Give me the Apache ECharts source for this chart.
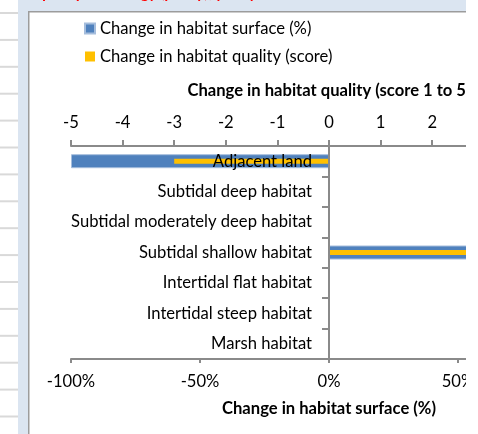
<!DOCTYPE html>
<html>
<head>
<meta charset="utf-8">
<script src="https://cdn.jsdelivr.net/npm/echarts@6/dist/echarts.min.js"></script>
<style>
  html, body { margin: 0; padding: 0; background: #fff; overflow: hidden; }
  #frame { width: 478px; height: 434px; overflow: hidden; position: relative; }
  #chart { width: 600px; height: 434px; position: absolute; left: 0; top: 0; }
</style>
</head>
<body>
<div id="frame"><div id="chart"></div></div>
<script>
// Habitat categories, top to bottom
const categories = [
  'Adjacent land',
  'Subtidal deep habitat',
  'Subtidal moderately deep habitat',
  'Subtidal shallow habitat',
  'Intertidal flat habitat',
  'Intertidal steep habitat',
  'Marsh habitat'
];
// Change in habitat surface (%)
const surfaceChange = [-100, 0, 0, 60, 0, 0, 0];
// Change in habitat quality (score 1 to 5)
const qualityChange = [-3, 0, 0, 3, 0, 0, 0];

const surfaceTicks = { min: -100, max: 100, interval: 50 };
const qualityTicks = { min: -5, max: 5, interval: 1 };

const FONT = 'Lato, "Open Sans", sans-serif';
const FS = 16.6;
const AXIS_GREY = '#8a8a8a';
const FRAME_BLUE = '#dbe5f1';

const GRID_LEFT = 71;
const GRID_RIGHT = 13;
const CHART_W = 600;
// horizontal distance from the grid's left edge to the zero line
const zeroOffset = (CHART_W - GRID_LEFT - GRID_RIGHT) *
  (0 - surfaceTicks.min) / (surfaceTicks.max - surfaceTicks.min);

// spreadsheet grid rows visible to the left of the chart frame
const sheetRows = [];
for (let i = 0; i < 16; i++) {
  sheetRows.push({
    type: 'rect',
    shape: { x: 0, y: 12 + i * 26.9, width: 18, height: 2 },
    style: { fill: '#d9d9d9' },
    silent: true
  });
}

const chart = echarts.init(document.getElementById('chart'), null, { renderer: 'canvas' });

chart.setOption({
  backgroundColor: '#ffffff',
  animation: false,
  textStyle: { fontFamily: FONT },
  legend: {
    orient: 'vertical',
    left: 84,
    top: 20,
    padding: 0,
    itemWidth: 10,
    itemHeight: 10,
    itemGap: 11,
    icon: 'rect',
    textStyle: { fontSize: FS, color: '#000', fontFamily: FONT },
    data: ['Change in habitat surface (%)', 'Change in habitat quality (score)']
  },
  grid: { left: GRID_LEFT, right: GRID_RIGHT, top: 146, bottom: 75, containLabel: false, outerBoundsMode: 'none' },
  xAxis: [
    {
      type: 'value',
      position: 'bottom',
      min: surfaceTicks.min, max: surfaceTicks.max, interval: surfaceTicks.interval,
      name: 'Change in habitat surface (%)',
      nameLocation: 'middle',
      nameGap: 41,
      nameTextStyle: { fontSize: FS, fontWeight: 'bold', color: '#000', fontFamily: FONT },
      axisLine: { show: true, onZero: false, lineStyle: { color: AXIS_GREY, width: 2 } },
      axisTick: { show: true, length: 4, lineStyle: { color: AXIS_GREY, width: 2 } },
      axisLabel: { formatter: '{value}%', fontSize: FS, color: '#000', margin: 14, fontFamily: FONT },
      splitLine: { show: false }
    },
    {
      type: 'value',
      position: 'top',
      min: qualityTicks.min, max: qualityTicks.max, interval: qualityTicks.interval,
      name: 'Change in habitat quality (score 1 to 5)',
      nameLocation: 'middle',
      nameGap: 47,
      nameTextStyle: { fontSize: FS, fontWeight: 'bold', color: '#000', fontFamily: FONT },
      axisLine: { show: true, onZero: false, lineStyle: { color: AXIS_GREY, width: 2 } },
      axisTick: { show: true, length: 6, lineStyle: { color: AXIS_GREY, width: 2 } },
      axisLabel: { fontSize: FS, color: '#000', margin: 15, fontFamily: FONT },
      splitLine: { show: false }
    }
  ],
  yAxis: [
    {
      type: 'category',
      inverse: true,
      data: categories,
      position: 'left',
      offset: -zeroOffset,
      z: 10,
      axisLine: { show: true, onZero: false, lineStyle: { color: AXIS_GREY, width: 2 } },
      axisTick: { show: true, length: 7, lineStyle: { color: AXIS_GREY, width: 2 } },
      axisLabel: { fontSize: FS, color: '#000', margin: 17, fontFamily: FONT },
      splitLine: { show: false }
    },
    {
      type: 'category',
      inverse: true,
      data: categories,
      show: false
    }
  ],
  series: [
    {
      name: 'Change in habitat surface (%)',
      type: 'bar',
      xAxisIndex: 0,
      yAxisIndex: 0,
      barWidth: 14,
      data: surfaceChange,
      itemStyle: { color: '#4f81bd', borderColor: '#a5bddc', borderWidth: 1 },
      z: 2
    },
    {
      name: 'Change in habitat quality (score)',
      type: 'bar',
      xAxisIndex: 1,
      yAxisIndex: 1,
      barWidth: 5,
      data: qualityChange,
      itemStyle: { color: '#ffc000' },
      z: 3
    }
  ],
  graphic: [
    ...sheetRows,
    // chart frame
    { type: 'rect', shape: { x: 18, y: 0, width: 11, height: 434 }, style: { fill: FRAME_BLUE }, silent: true, z: 50 },
    { type: 'rect', shape: { x: 18, y: 0, width: 448, height: 11 }, style: { fill: FRAME_BLUE }, silent: true, z: 50 },
    {
      type: 'text', x: 26, y: -15, silent: true, z: 52,
      style: { text: 'Impact per strategy (policy), yearly', fill: '#ff0000',
        font: 'italic bold 16px ' + FONT }
    },
    { type: 'line', shape: { x1: 28.75, y1: 11, x2: 28.75, y2: 434 }, style: { stroke: '#9c9c9c', lineWidth: 1.5 }, silent: true, z: 53 },
    { type: 'line', shape: { x1: 28, y1: 11.75, x2: 466, y2: 11.75 }, style: { stroke: '#9c9c9c', lineWidth: 1.5 }, silent: true, z: 53 },
    // page area beyond the right edge of the sheet view
    { type: 'rect', shape: { x: 466, y: 0, width: 134, height: 434 }, style: { fill: '#ffffff' }, silent: true, z: 100 }
  ]
});
</script>
</body>
</html>
